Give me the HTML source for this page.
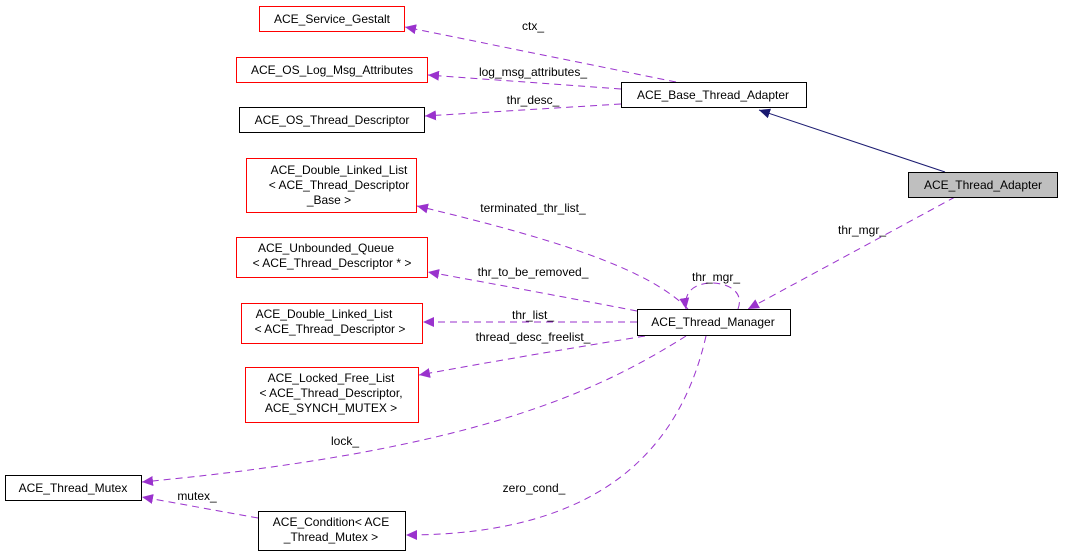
<!DOCTYPE html>
<html><head><meta charset="utf-8"><style>
html,body{margin:0;padding:0;background:#fff;}
svg{display:block;}
text{font-family:"Liberation Sans",Arial,sans-serif;font-size:12px;fill:#000;}
</style></head><body>
<svg width="1067" height="556" viewBox="0 0 1067 556" xmlns="http://www.w3.org/2000/svg">
<defs>
<marker id="p" markerUnits="userSpaceOnUse" markerWidth="12" markerHeight="10" refX="11" refY="5" orient="auto"><path d="M0,0 L11,5 L0,10 Z" fill="#9a32cd"/></marker>
<marker id="n" markerUnits="userSpaceOnUse" markerWidth="12" markerHeight="10" refX="11" refY="5" orient="auto"><path d="M0,0 L11,5 L0,10 Z" fill="#191970"/></marker>
</defs>
<g fill="none" stroke="#9a32cd" stroke-dasharray="7,5" stroke-width="1">
<path d="M676,82 L405,27" marker-end="url(#p)"/>
<path d="M621,89 L428,75" marker-end="url(#p)"/>
<path d="M621,104 L425,116" marker-end="url(#p)"/>
<path d="M688,309 C650,270 560,240 417,206" marker-end="url(#p)"/>
<path d="M637,311 C580,300 500,285 428,272" marker-end="url(#p)"/>
<path d="M637,322 L423,322" marker-end="url(#p)"/>
<path d="M645,336 C560,350 490,362 419,375" marker-end="url(#p)"/>
<path d="M686,336 C600,390 480,450 142,482" marker-end="url(#p)"/>
<path d="M706,336 C680,450 600,535 406,535" marker-end="url(#p)"/>
<path d="M258,518 L142,497" marker-end="url(#p)"/>
<path d="M955,197 L748,309" marker-end="url(#p)"/>
<path d="M738,309 C745,290 725,283 712,283 C697,283 683,290 686,309" marker-end="url(#p)"/>
</g>
<path d="M945,172 L759,110" stroke="#191970" fill="none" marker-end="url(#n)"/>
<g stroke-width="1">
<rect x="259.5" y="6.5" width="145" height="25" fill="#fff" stroke="#ff0000"/>
<rect x="236.5" y="57.5" width="191" height="25" fill="#fff" stroke="#ff0000"/>
<rect x="239.5" y="107.5" width="185" height="25" fill="#fff" stroke="#000"/>
<rect x="246.5" y="158.5" width="170" height="54" fill="#fff" stroke="#ff0000"/>
<rect x="236.5" y="237.5" width="191" height="40" fill="#fff" stroke="#ff0000"/>
<rect x="241.5" y="303.5" width="181" height="40" fill="#fff" stroke="#ff0000"/>
<rect x="245.5" y="367.5" width="173" height="55" fill="#fff" stroke="#ff0000"/>
<rect x="5.5" y="475.5" width="136" height="25" fill="#fff" stroke="#000"/>
<rect x="258.5" y="511.5" width="147" height="39" fill="#fff" stroke="#000"/>
<rect x="621.5" y="82.5" width="185" height="25" fill="#fff" stroke="#000"/>
<rect x="908.5" y="172.5" width="149" height="25" fill="#bfbfbf" stroke="#000"/>
<rect x="637.5" y="309.5" width="153" height="26" fill="#fff" stroke="#000"/>
</g>
<g text-anchor="middle">
<text x="332" y="23">ACE_Service_Gestalt</text>
<text x="332" y="74">ACE_OS_Log_Msg_Attributes</text>
<text x="332" y="124">ACE_OS_Thread_Descriptor</text>
<text x="339" y="174">ACE_Double_Linked_List</text>
<text x="339" y="189">&lt; ACE_Thread_Descriptor</text>
<text x="329" y="204">_Base &gt;</text>
<text x="326" y="252">ACE_Unbounded_Queue</text>
<text x="332" y="267">&lt; ACE_Thread_Descriptor * &gt;</text>
<text x="324" y="318">ACE_Double_Linked_List</text>
<text x="330" y="333">&lt; ACE_Thread_Descriptor &gt;</text>
<text x="331" y="382">ACE_Locked_Free_List</text>
<text x="331" y="397">&lt; ACE_Thread_Descriptor,</text>
<text x="331" y="412">ACE_SYNCH_MUTEX &gt;</text>
<text x="73" y="492">ACE_Thread_Mutex</text>
<text x="331" y="526">ACE_Condition&lt; ACE</text>
<text x="331" y="541">_Thread_Mutex &gt;</text>
<text x="713" y="99">ACE_Base_Thread_Adapter</text>
<text x="983" y="189">ACE_Thread_Adapter</text>
<text x="713" y="326">ACE_Thread_Manager</text>
<text x="533" y="30">ctx_</text>
<text x="533" y="76">log_msg_attributes_</text>
<text x="533" y="104">thr_desc_</text>
<text x="533" y="212">terminated_thr_list_</text>
<text x="533" y="276">thr_to_be_removed_</text>
<text x="533" y="319">thr_list_</text>
<text x="533" y="341">thread_desc_freelist_</text>
<text x="345" y="445">lock_</text>
<text x="534" y="492">zero_cond_</text>
<text x="197" y="500">mutex_</text>
<text x="862" y="234">thr_mgr_</text>
<text x="716" y="281">thr_mgr_</text>
</g>
</svg>
</body></html>
